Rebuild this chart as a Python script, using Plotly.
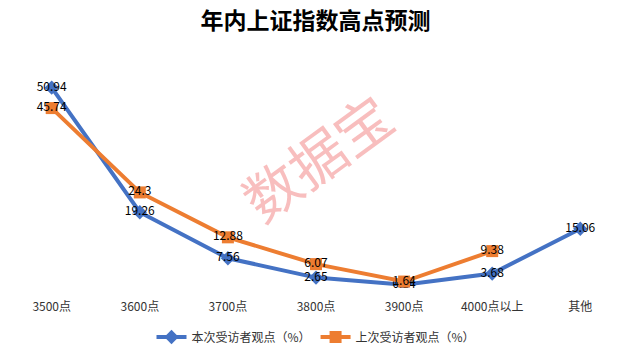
import plotly.graph_objects as go

categories = ["3500点", "3600点", "3700点", "3800点", "3900点", "4000点以上", "其他"]
current = [50.94, 19.26, 7.56, 2.65, 0.84, 3.68, 15.06]
previous = [45.74, 24.3, 12.88, 6.07, 1.64, 9.38, None]
name_current = "本次受访者观点（%）"
name_previous = "上次受访者观点（%）"

font_cjk = "Noto Sans CJK SC"

fig = go.Figure()
fig.add_trace(go.Scatter(
    x=categories, y=current, name=name_current, mode="lines+markers+text",
    line=dict(color="#4472C4", width=4),
    marker=dict(symbol="diamond", size=11, color="#4472C4"),
    text=[f"{v:g}" for v in current], textposition="middle center",
    textfont=dict(size=12, color="#000000", family=font_cjk),
))
fig.add_trace(go.Scatter(
    x=categories, y=previous, name=name_previous, mode="lines+markers+text",
    line=dict(color="#ED7D31", width=4),
    marker=dict(symbol="square", size=12, color="#ED7D31"),
    text=[("" if v is None else f"{v:g}") for v in previous], textposition="middle center",
    textfont=dict(size=12, color="#000000", family=font_cjk),
    connectgaps=False,
))

fig.add_annotation(
    text="数据宝", x=0.5, y=0.56, xref="paper", yref="paper",
    showarrow=False, textangle=-36,
    font=dict(size=56, color="rgba(240,110,110,0.45)", family=font_cjk),
)

fig.update_layout(
    width=631, height=354,
    margin=dict(l=14, r=13, t=52, b=66, autoexpand=False),
    paper_bgcolor="white", plot_bgcolor="white",
    title=dict(text="<b>年内上证指数高点预测</b>", x=0.5, xanchor="center", y=0.94, yanchor="middle",
               font=dict(size=23, color="#000000", family=font_cjk)),
    xaxis=dict(showgrid=False, showline=False, zeroline=False, ticks="",
               ticklabelstandoff=10,
               tickfont=dict(size=12, color="#333333", family=font_cjk)),
    yaxis=dict(range=[0, 60], showgrid=False, showline=False, zeroline=False,
               showticklabels=False),
    legend=dict(orientation="h", x=0.5, xanchor="center", yref="container", y=0.048, yanchor="middle",
                font=dict(size=12, color="#333333", family=font_cjk)),
    showlegend=True,
)

fig.write_html("out.html")
